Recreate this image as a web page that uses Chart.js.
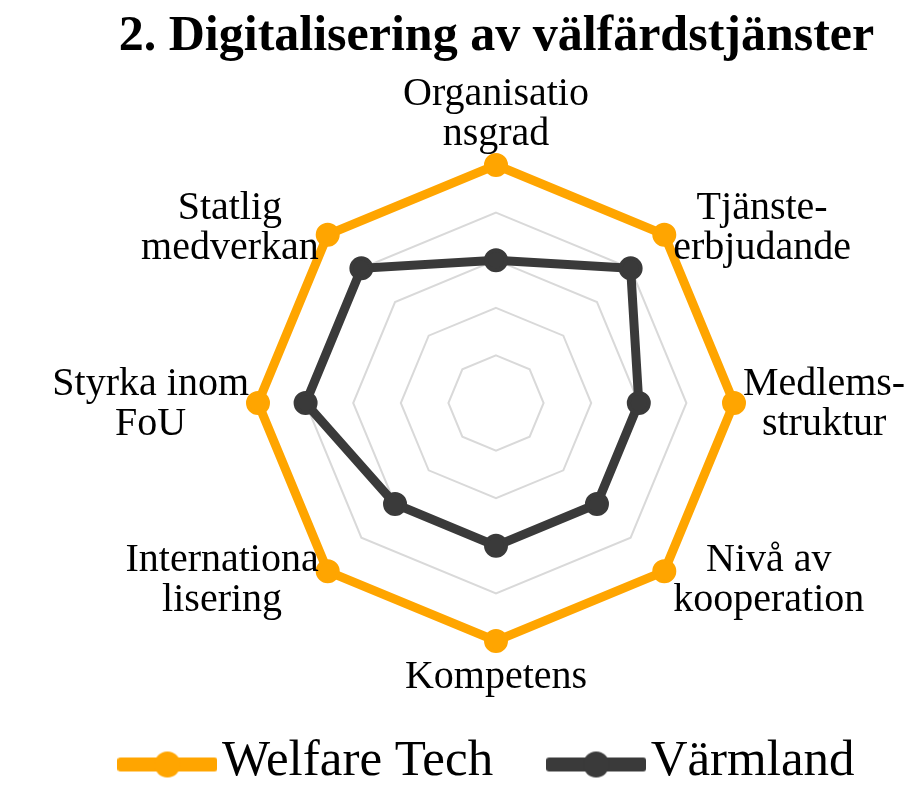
<!DOCTYPE html>
<html>
<head>
<meta charset="utf-8">
<script src="https://cdn.jsdelivr.net/npm/chart.js@4.4.0/dist/chart.umd.min.js"></script>
<style>
html,body{margin:0;padding:0;background:#fff;overflow:hidden}
#wrap{position:relative;width:940px;height:797px}
</style>
</head>
<body>
<div id="wrap"><canvas id="c"></canvas></div>
<script>
const chartTitle = "2. Digitalisering av välfärdstjänster";
const categories = [
  ["Organisatio", "nsgrad"],
  ["Tjänste-", "erbjudande"],
  ["Medlems-", "struktur"],
  ["Nivå av", "kooperation"],
  ["Kompetens"],
  ["Internationa", "lisering"],
  ["Styrka inom", "FoU"],
  ["Statlig", "medverkan"]
];
const seriesNames = ["Welfare Tech", "Värmland"];
const welfareTech = [5, 5, 5, 5, 5, 5, 5, 5];
const varmland = [3, 4, 3, 3, 3, 3, 4, 4];
const scaleMin = 0, scaleMax = 5, scaleStep = 1;

const ORANGE = '#FFA500';
const DARK = '#3A3A3A';
const FONT = '"Liberation Serif", "Times New Roman", serif';
Chart.defaults.font.family = FONT;

function legendMarker(color) {
  const c = document.createElement('canvas');
  c.width = 100; c.height = 40;
  const g = c.getContext('2d');
  g.fillStyle = color;
  g.beginPath();
  if (g.roundRect) g.roundRect(0, 16, 100, 14, 3); else g.rect(0, 16, 100, 14);
  g.fill();
  g.beginPath();
  g.arc(50, 23, 13, 0, Math.PI * 2);
  g.fill();
  return c;
}
const markers = [legendMarker(ORANGE), legendMarker(DARK)];

const pointLabelPlugin = {
  id: 'centeredPointLabels',
  afterDatasetsDraw(chart) {
    const s = chart.scales.r;
    const ctx = chart.ctx;
    const LH = 40;
    ctx.save();
    ctx.font = '40px ' + FONT;
    ctx.fillStyle = '#000';
    ctx.textAlign = 'center';
    ctx.textBaseline = 'alphabetic';
    chart.data.labels.forEach((lab, i) => {
      const lines = Array.isArray(lab) ? lab : [lab];
      const n = lines.length;
      const p = s.getPointPosition(i, s.drawingArea);
      const w = Math.max(...lines.map(l => ctx.measureText(l).width));
      const ang = s.getIndexAngle(i);
      const sx = Math.sin(ang), cy = Math.cos(ang);
      let cx, firstBase;
      if (Math.abs(sx) < 0.01) {
        cx = p.x;
        firstBase = cy > 0 ? p.y - 20 - (n - 1) * LH : p.y + 47;
      } else {
        cx = sx > 0 ? p.x + 9 + w / 2 : p.x - 9 - w / 2;
        const midBase = p.y + 12 - 11 * cy;
        firstBase = midBase - (n - 1) * LH / 2;
      }
      lines.forEach((l, k) => ctx.fillText(l, cx, firstBase + k * LH));
    });
    ctx.restore();
  }
};

new Chart(document.getElementById('c'), {
  type: 'radar',
  data: {
    labels: categories,
    datasets: [
      {
        label: seriesNames[0],
        data: welfareTech,
        borderColor: ORANGE,
        backgroundColor: ORANGE,
        pointBackgroundColor: ORANGE,
        pointBorderColor: ORANGE,
        borderWidth: 9,
        pointRadius: 10,
        pointBorderWidth: 4,
        fill: false
      },
      {
        label: seriesNames[1],
        data: varmland,
        borderColor: DARK,
        backgroundColor: DARK,
        pointBackgroundColor: DARK,
        pointBorderColor: DARK,
        borderWidth: 9,
        pointRadius: 10,
        pointBorderWidth: 4,
        fill: false
      }
    ]
  },
  options: {
    responsive: true,
    maintainAspectRatio: false,
    animation: false,
    layout: { padding: { left: 53, right: 0, top: 0, bottom: 0 } },
    scales: {
      r: {
        min: scaleMin,
        max: scaleMax,
        ticks: { stepSize: scaleStep, display: false },
        grid: { color: '#D9D9D9', lineWidth: 2 },
        angleLines: { display: false },
        pointLabels: { display: false }
      }
    },
    plugins: {
      title: {
        display: true,
        text: chartTitle,
        color: '#000',
        font: { family: FONT, size: 50, weight: 'bold', lineHeight: 1.2 },
        padding: { top: 7, bottom: 98 }
      },
      legend: {
        position: 'bottom',
        title: { display: true, text: ' ', padding: 0, font: { size: 21, lineHeight: 1 } },
        labels: {
          usePointStyle: true,
          pointStyleWidth: 58,
          padding: 74,
          color: '#000',
          font: { family: FONT, size: 51 },
          generateLabels(chart) {
            const items = Chart.defaults.plugins.legend.labels.generateLabels(chart);
            items.forEach((it, i) => { it.pointStyle = markers[i]; });
            return items;
          }
        }
      },
      tooltip: { enabled: false }
    }
  },
  plugins: [pointLabelPlugin]
});
</script>
</body>
</html>
